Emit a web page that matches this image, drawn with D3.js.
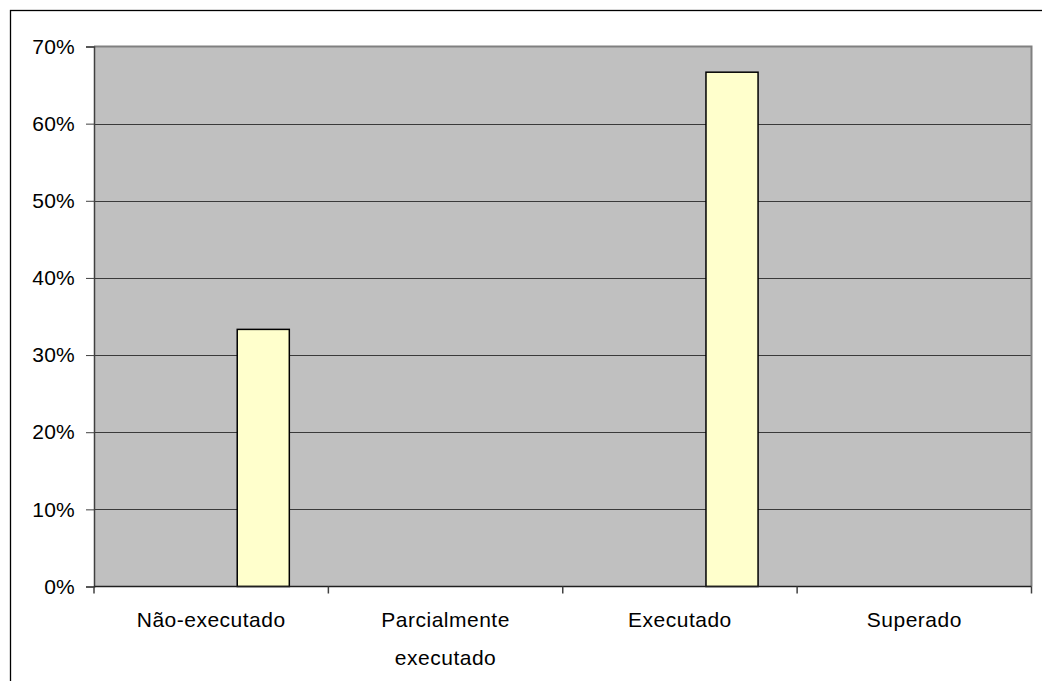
<!DOCTYPE html>
<html>
<head>
<meta charset="utf-8">
<script src="https://cdn.jsdelivr.net/npm/d3@7/dist/d3.min.js"></script>
<style>
  html, body { margin: 0; padding: 0; background: #fff; }
  svg { display: block; }
  text { font-family: "Liberation Sans", Arial, sans-serif; fill: #000; }
</style>
</head>
<body>
<svg id="chart" width="1042" height="681"></svg>
<script>
// ---- data ----
const categories = [["Não-executado"], ["Parcialmente", "executado"], ["Executado"], ["Superado"]];
const seriesNames = ["s1", "s2", "s3"];
const series1 = [0, 0, 0, 0];
const series2 = [0, 0, 0, 0];
const series3 = [0.3333, 0, 0.6667, 0];
const yTicks = [0, 0.1, 0.2, 0.3, 0.4, 0.5, 0.6, 0.7];

const allSeries = [series1, series2, series3];

const svg = d3.select("#chart");
const W = 1042, H = 681;
const plot = { left: 94, right: 1031.5, top: 46.5, bottom: 586.5 };

// outer frame (right/bottom edges lie off-canvas)
svg.append("rect")
  .attr("x", 10.5).attr("y", 10.5)
  .attr("width", W + 10).attr("height", H + 10)
  .attr("fill", "#fff").attr("stroke", "#000").attr("stroke-width", 1.3);

const x = d3.scaleBand()
  .domain(d3.range(categories.length))
  .range([plot.left, plot.right])
  .paddingInner(0).paddingOuter(0);

const xs = d3.scaleBand()
  .domain(d3.range(seriesNames.length))
  .range([0, x.bandwidth()])
  .paddingInner(0).paddingOuter(0.75);

const y = d3.scaleLinear().domain([0, 0.7]).range([plot.bottom, plot.top]);

// plot background
svg.append("rect")
  .attr("x", plot.left).attr("y", plot.top)
  .attr("width", plot.right - plot.left).attr("height", plot.bottom - plot.top)
  .attr("fill", "#c0c0c0");

// gridlines
svg.append("g").selectAll("line")
  .data(yTicks.filter(t => t > 0 && t < 0.7))
  .join("line")
  .attr("x1", plot.left).attr("x2", plot.right)
  .attr("y1", d => Math.round(y(d)) + 0.5).attr("y2", d => Math.round(y(d)) + 0.5)
  .attr("stroke", "#3a3a3a").attr("stroke-width", 1);

// plot area top/right border
svg.append("path")
  .attr("d", `M${plot.left},${plot.top} H${plot.right} V${plot.bottom}`)
  .attr("fill", "none").attr("stroke", "#808080").attr("stroke-width", 2);

// bars
const barData = [];
allSeries.forEach((vals, si) => vals.forEach((v, ci) => { if (v > 0) barData.push({ si, ci, v }); }));
svg.append("g").selectAll("rect")
  .data(barData)
  .join("rect")
  .attr("x", d => x(d.ci) + xs(d.si))
  .attr("y", d => y(d.v))
  .attr("width", xs.bandwidth())
  .attr("height", d => y(0) - y(d.v))
  .attr("fill", "#ffffcc").attr("stroke", "#000").attr("stroke-width", 1.5);

// y axis
const yAxis = d3.axisLeft(y).tickValues(yTicks).tickFormat(d3.format(".0%")).tickSize(8).tickPadding(11);
const gy = svg.append("g").attr("transform", `translate(${plot.left},0)`).call(yAxis);
gy.select(".domain").attr("stroke", "#404040").attr("stroke-width", 1.5);
gy.selectAll(".tick line").attr("stroke", "#404040");
gy.selectAll(".tick text")
  .style("font-family", '"Liberation Sans", Arial, sans-serif')
  .style("font-size", "21px").style("letter-spacing", "0.2px").attr("fill", "#000");

// x axis: ticks at category boundaries
const boundaries = d3.range(categories.length + 1).map(i => plot.left + i * x.step());
svg.append("line")
  .attr("x1", plot.left).attr("x2", plot.right)
  .attr("y1", plot.bottom).attr("y2", plot.bottom)
  .attr("stroke", "#202020").attr("stroke-width", 1.5);
svg.append("g").selectAll("line")
  .data(boundaries)
  .join("line")
  .attr("x1", d => d).attr("x2", d => d)
  .attr("y1", plot.bottom).attr("y2", plot.bottom + 7)
  .attr("stroke", "#404040").attr("stroke-width", 1.5);

// category labels
const lab = svg.append("g").selectAll("text")
  .data(categories)
  .join("text")
  .attr("text-anchor", "middle")
  .style("font-size", "21px")
  .style("letter-spacing", "0.5px");
lab.each(function(lines, i) {
  const t = d3.select(this);
  lines.forEach((ln, j) => {
    t.append("tspan")
      .attr("x", x(i) + x.bandwidth() / 2)
      .attr("y", 627 + j * 38)
      .text(ln);
  });
});
</script>
</body>
</html>
